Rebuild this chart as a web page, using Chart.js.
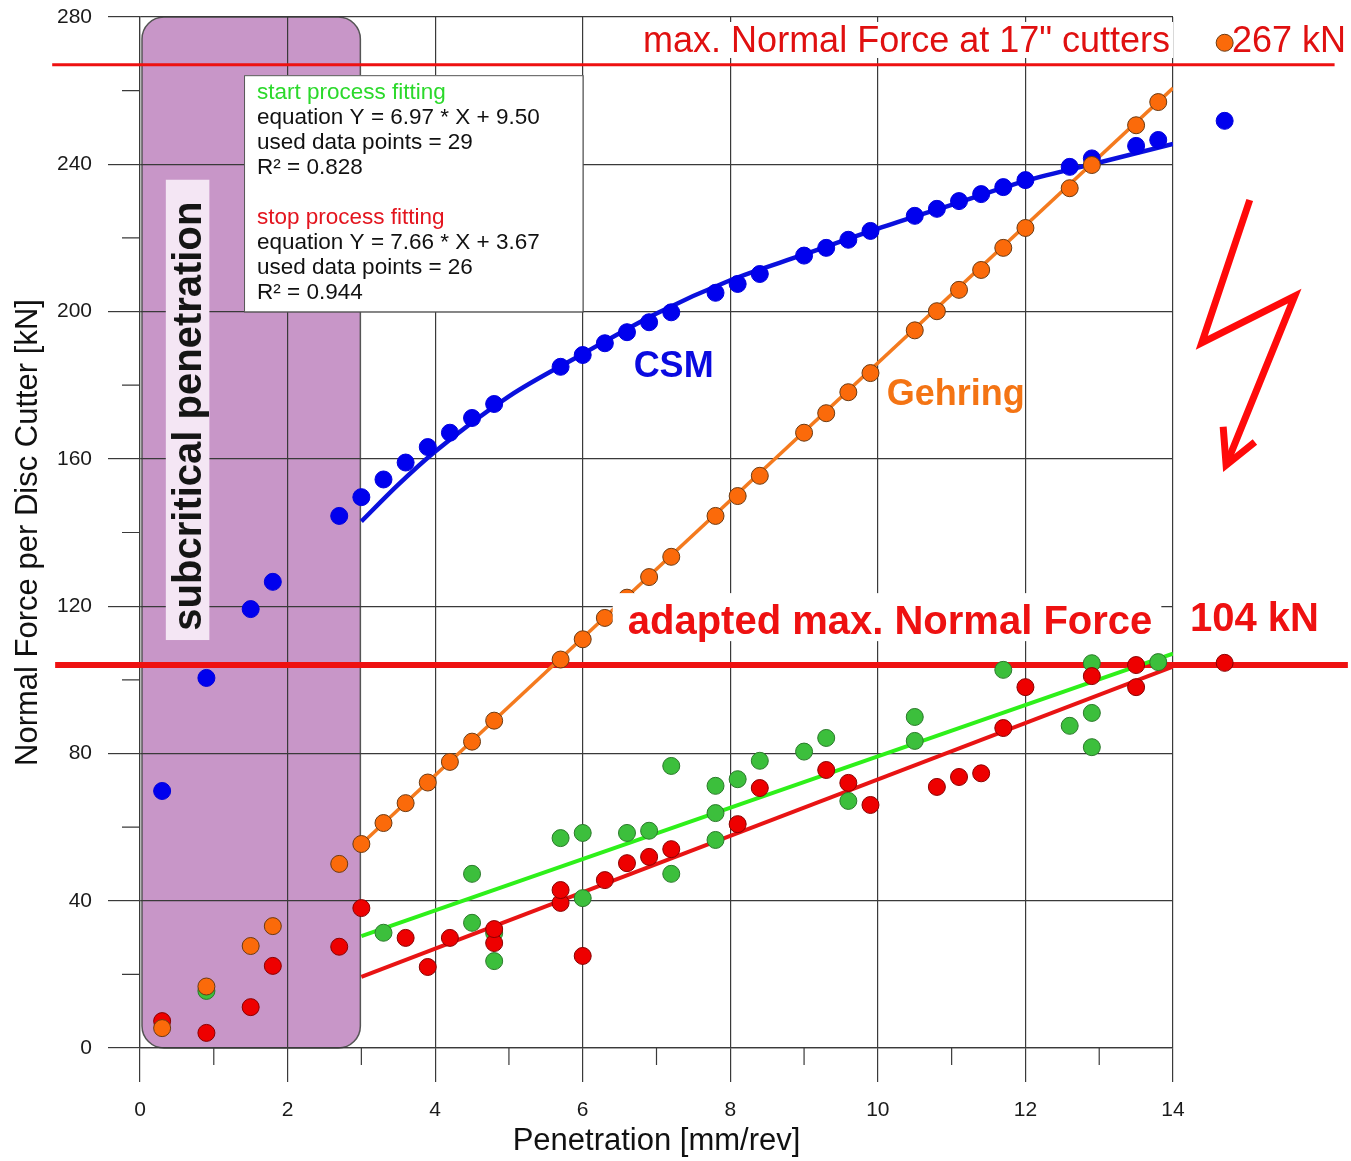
<!DOCTYPE html>
<html lang="en">
<head>
<meta charset="UTF-8" />
<title>Normal Force per Disc Cutter</title>
<script src="https://cdn.jsdelivr.net/npm/chart.js"></script>
<style>
  body { margin: 0; background: #fff; }
  #wrap { width: 1351px; height: 1161px; }
</style>
</head>
<body>
<div id="wrap"><canvas id="grafico"></canvas></div>

<script>
  // penetration steps [mm/rev] shared by the CSM and Gehring predictions
  const penetration = [0.3, 0.9, 1.5, 1.8, 2.7, 3.0, 3.3, 3.6, 3.9, 4.2, 4.5, 4.8, 5.7, 6.0, 6.3, 6.6, 6.9, 7.2,
                       7.8, 8.1, 8.4, 9.0, 9.3, 9.6, 9.9, 10.5, 10.8, 11.1, 11.4, 11.7, 12.0, 12.6, 12.9, 13.5, 13.8, 14.7];
  const csmForce = [69.8, 100.5, 119.2, 126.6, 144.5, 149.6, 154.4, 159.0, 163.2, 167.1, 171.1, 174.9, 185.0, 188.2, 191.4, 194.4, 197.1, 199.8,
                    205.1, 207.5, 210.2, 215.2, 217.3, 219.5, 221.9, 226.0, 227.9, 230.0, 231.9, 233.8, 235.7, 239.3, 241.6, 245.0, 246.6, 251.8];
  const gehringForce = [5.4, 16.7, 27.7, 33.1, 50.0, 55.4, 61.1, 66.5, 72.1, 77.7, 83.2, 88.9, 105.5, 111.0, 116.8, 122.3, 127.9, 133.4,
                        144.5, 149.9, 155.4, 167.1, 172.4, 178.1, 183.3, 194.9, 200.1, 205.9, 211.3, 217.3, 222.7, 233.5, 239.8, 250.6, 256.9, 273.0];

  // measured normal force, start of process
  const startX = [0.9, 3.3, 4.5, 4.5, 4.8, 4.8, 5.7, 6.0, 6.0, 6.6, 6.9, 7.2, 7.2, 7.8, 7.8, 7.8, 8.1, 8.4, 9.0, 9.3, 9.6,
                  10.5, 10.5, 11.7, 12.6, 12.9, 12.9, 12.9, 13.8];
  const startForce = [15.5, 31.3, 47.3, 34.0, 31.2, 23.6, 57.0, 58.4, 40.7, 58.4, 59.0, 76.6, 47.3, 71.2, 63.8, 56.5, 73.0, 78.0, 80.5, 84.2, 67.1,
                      89.9, 83.4, 102.7, 87.5, 91.0, 81.7, 104.5, 104.8];

  // measured normal force, stop of process
  const stopX = [0.3, 0.9, 1.5, 1.8, 2.7, 3.0, 3.6, 3.9, 4.2, 4.8, 4.8, 5.7, 5.7, 6.0, 6.3, 6.6, 6.9, 7.2, 8.1, 8.4,
                 9.3, 9.6, 9.9, 10.8, 11.1, 11.4, 11.7, 12.0, 12.9, 13.5, 13.5, 14.7];
  const stopForce = [7.3, 4.1, 11.1, 22.3, 27.5, 38.0, 29.9, 22.0, 29.9, 32.3, 28.5, 42.9, 39.4, 25.0, 45.6, 50.2, 51.9, 54.0, 60.8, 70.6,
                     75.5, 72.0, 66.0, 70.9, 73.6, 74.6, 86.9, 98.0, 101.0, 104.0, 98.0, 104.6];

  // fitted curves
  const csmFitX = [3, 3.5, 4, 5, 6, 7, 8, 9, 10, 11, 12, 13, 14];
  const csmFitY = [143, 153, 162, 177, 188.5, 199.5, 208.5, 215.5, 222.5, 229, 235.5, 240.5, 245.5];
  const gehringFitX = [3, 14];
  const gehringFitY = [55.4, 260.7];
  const startFitX = [3, 14];
  const startFitY = [30.4, 107.1];
  const stopFitX = [3, 14];
  const stopFitY = [19.3, 103.6];

  // limits [kN]
  const maxForce = 267;
  const adaptedForce = 104;
  const subcritical = [0, 3];

  const xTicks = [0, 2, 4, 6, 8, 10, 12, 14];
  const xMinor = [1, 3, 5, 7, 9, 11, 13];
  const yTicks = [0, 40, 80, 120, 160, 200, 240, 280];
  const yMinor = [20, 60, 100, 140, 180, 220, 260];

  const family = '"Liberation Sans", Arial, Helvetica, sans-serif';
  const gridColor = '#3a3a3a';

  const xy = (xs, ys) => xs.map((x, i) => ({ x: x, y: ys[i] }));

  function puntos(label, xs, ys, fill, edge) {
    // unsorted order so every point gets a position, also those past 14 mm/rev
    return {
      label: label, data: xy(xs, ys).reverse(), showLine: false, clip: false,
      pointRadius: 8.5, pointHoverRadius: 8.5, pointBorderWidth: 1,
      backgroundColor: fill, borderColor: edge,
      pointBackgroundColor: fill, pointBorderColor: edge
    };
  }

  function ajuste(label, xs, ys, color, width, smooth) {
    return {
      label: label, data: xy(xs, ys), showLine: true, pointRadius: 0,
      borderColor: color, borderWidth: width, backgroundColor: color,
      cubicInterpolationMode: smooth ? 'monotone' : 'default', tension: smooth ? 0.4 : 0
    };
  }

  function texto(ctx, s, x, y, font, color, align) {
    ctx.font = font;
    ctx.fillStyle = color;
    ctx.textAlign = align || 'left';
    ctx.textBaseline = 'alphabetic';
    ctx.fillText(s, x, y);
  }

  function roundRect(ctx, x, y, w, h, r) {
    ctx.beginPath();
    ctx.moveTo(x + r, y);
    ctx.lineTo(x + w - r, y);
    ctx.arcTo(x + w, y, x + w, y + r, r);
    ctx.lineTo(x + w, y + h - r);
    ctx.arcTo(x + w, y + h, x + w - r, y + h, r);
    ctx.lineTo(x + r, y + h);
    ctx.arcTo(x, y + h, x, y + h - r, r);
    ctx.lineTo(x, y + r);
    ctx.arcTo(x, y, x + r, y, r);
    ctx.closePath();
  }

  const decor = {
    id: 'decor',
    beforeDraw(chart) {
      // subcritical penetration band, under the grid
      const { ctx, chartArea: a, scales: { x } } = chart;
      const l = x.getPixelForValue(subcritical[0]) + 2;
      const r = x.getPixelForValue(subcritical[1]) - 1;
      ctx.save();
      roundRect(ctx, l, a.top, r - l, a.bottom - a.top, 22);
      ctx.fillStyle = '#c896c8';
      ctx.fill();
      ctx.strokeStyle = '#555';
      ctx.lineWidth = 1.5;
      ctx.stroke();
      ctx.restore();
    },
    beforeDatasetsDraw(chart) {
      const { ctx, chartArea: a, scales: { x, y } } = chart;
      ctx.save();

      // minor ticks
      ctx.strokeStyle = gridColor;
      ctx.lineWidth = 1.2;
      ctx.beginPath();
      xMinor.forEach(v => { const p = x.getPixelForValue(v); ctx.moveTo(p, a.bottom); ctx.lineTo(p, a.bottom + 17); });
      yMinor.forEach(v => { const p = y.getPixelForValue(v); ctx.moveTo(a.left - 18, p); ctx.lineTo(a.left, p); });
      ctx.stroke();

      // label inside the band
      const bx0 = x.getPixelForValue(0.35), bx1 = x.getPixelForValue(0.94);
      const by0 = y.getPixelForValue(235.8), by1 = y.getPixelForValue(110.8);
      ctx.fillStyle = '#f4e6f4';
      ctx.fillRect(bx0, by0, bx1 - bx0, by1 - by0);
      ctx.save();
      ctx.translate(x.getPixelForValue(0.83), y.getPixelForValue(171.6));
      ctx.rotate(-Math.PI / 2);
      texto(ctx, 'subcritical penetration', 0, 0, 'bold 40px ' + family, '#151515', 'center');
      ctx.restore();

      // fitting summary box
      const fx0 = x.getPixelForValue(1.41), fx1 = x.getPixelForValue(6);
      const fy0 = y.getPixelForValue(264.2), fy1 = y.getPixelForValue(200);
      ctx.fillStyle = '#fff';
      ctx.fillRect(fx0, fy0, fx1 - fx0, fy1 - fy0);
      ctx.strokeStyle = '#555';
      ctx.lineWidth = 1;
      ctx.strokeRect(fx0 + 0.5, fy0 + 0.5, fx1 - fx0, fy1 - fy0);
      const lines = [
        ['start process fitting', '#2bd92b'],
        ['equation Y = 6.97 * X + 9.50', '#111'],
        ['used data points = 29', '#111'],
        ['R\u00b2 = 0.828', '#111'],
        null,
        ['stop process fitting', '#e3141e'],
        ['equation Y = 7.66 * X + 3.67', '#111'],
        ['used data points = 26', '#111'],
        ['R\u00b2 = 0.944', '#111']
      ];
      lines.forEach((ln, i) => {
        if (ln) texto(ctx, ln[0], fx0 + 13, fy0 + 24 + i * 25, '22.5px ' + family, ln[1]);
      });

      // force limits
      const limite = (val, from, to, w) => {
        const p = y.getPixelForValue(val);
        ctx.strokeStyle = '#ee1111';
        ctx.lineWidth = w;
        ctx.beginPath();
        ctx.moveTo(x.getPixelForValue(from), p);
        ctx.lineTo(x.getPixelForValue(to), p);
        ctx.stroke();
      };
      limite(maxForce, -1.19, 16.19, 3);
      limite(adaptedForce, -1.15, 16.37, 6);

      ctx.restore();
    },
    afterDatasetsDraw(chart) {
      const { ctx, chartArea: a, scales: { x, y } } = chart;
      ctx.save();

      // points past the axis end are skipped by the library's area check, draw them here
      const lienzo = { left: 0, top: 0, right: chart.width, bottom: chart.height };
      chart.getSortedVisibleDatasetMetas().slice().reverse().forEach(meta => {
        if (meta.controller.getDataset().showLine) return;
        meta.data.forEach(el => {
          if (Number.isFinite(el.x) && el.x > a.right) el.draw(ctx, lienzo);
        });
      });

      // captions on white backing
      const rotulo = (s, vx, vy, font, color, align, pad) => {
        ctx.font = font;
        const w = ctx.measureText(s).width;
        const px = x.getPixelForValue(vx), py = y.getPixelForValue(vy);
        const left = align === 'right' ? px - w : px;
        ctx.fillStyle = '#fff';
        ctx.fillRect(left - pad[0], py - pad[1], w + pad[0] + pad[2], pad[1] + pad[3]);
        texto(ctx, s, px, py, font, color, align);
      };
      rotulo('max. Normal Force at 17" cutters', 13.96, 270.5, '36px ' + family, '#e01010', 'right', [6, 30, 3, 6]);
      rotulo('adapted max. Normal Force', 6.61, 112.4, 'bold 40px ' + family, '#ee1111', 'left', [15, 41, 9, 7]);

      texto(ctx, '267 kN', x.getPixelForValue(14.8), y.getPixelForValue(270.5), '36px ' + family, '#e01010');
      texto(ctx, '104 kN', x.getPixelForValue(14.23), y.getPixelForValue(113.3), 'bold 40px ' + family, '#ee1111');
      texto(ctx, 'CSM', x.getPixelForValue(6.69), y.getPixelForValue(182.2), 'bold 36px ' + family, '#0a0ae0');
      texto(ctx, 'Gehring', x.getPixelForValue(10.12), y.getPixelForValue(174.6), 'bold 36px ' + family, '#f47414');

      // lightning arrow towards the reduced limit
      const rayo = [[15.04, 230.3], [14.39, 191.5], [15.65, 204.2], [14.72, 158.3]];
      ctx.strokeStyle = '#ff0a0a';
      ctx.lineWidth = 7;
      ctx.lineJoin = 'miter';
      ctx.beginPath();
      rayo.forEach((p, i) => {
        const X = x.getPixelForValue(p[0]), Y = y.getPixelForValue(p[1]);
        if (i === 0) ctx.moveTo(X, Y); else ctx.lineTo(X, Y);
      });
      ctx.stroke();
      const punta = [[14.68, 168.7], [14.72, 158.3], [15.11, 164.6]];
      ctx.beginPath();
      punta.forEach((p, i) => {
        const X = x.getPixelForValue(p[0]), Y = y.getPixelForValue(p[1]);
        if (i === 0) ctx.moveTo(X, Y); else ctx.lineTo(X, Y);
      });
      ctx.stroke();

      ctx.restore();
    }
  };

  const ctx = document.getElementById('grafico').getContext('2d');
  const chart = new Chart(ctx, {
    type: 'scatter',
    data: {
      datasets: [
        puntos('Gehring', penetration, gehringForce, '#fb6a0a', '#6b3a12'),
        puntos('CSM', penetration, csmForce, '#0000ee', '#0000dd'),
        puntos('stop process', stopX, stopForce, '#ee0000', '#8a0000'),
        puntos('start process', startX, startForce, '#3cbf3c', '#2a7a2a'),
        ajuste('Gehring fit', gehringFitX, gehringFitY, '#f47a1e', 3.5, false),
        ajuste('CSM fit', csmFitX, csmFitY, '#0a10dd', 4.5, true),
        ajuste('stop fit', stopFitX, stopFitY, '#e81414', 4, false),
        ajuste('start fit', startFitX, startFitY, '#2ef01a', 4, false)
      ]
    },
    options: {
      responsive: true,
      maintainAspectRatio: false,
      animation: false,
      layout: { padding: { top: 17, right: 178, left: 0, bottom: 0 } },
      plugins: { legend: { display: false }, tooltip: { enabled: false } },
      scales: {
        x: {
          type: 'linear', min: 0, max: 14,
          afterBuildTicks: s => { s.ticks = xTicks.map(v => ({ value: v })); },
          afterFit: s => { s.height = 113; s.paddingLeft = 0; s.paddingRight = 0; },
          grid: { color: gridColor, lineWidth: 1.2, tickLength: 34 },
          border: { color: gridColor, width: 1.2 },
          ticks: { color: '#1a1a1a', font: { family: family, size: 21 }, padding: 16,
                   autoSkip: false, maxRotation: 0, callback: v => String(v) },
          title: { display: true, text: 'Penetration [mm/rev]', color: '#111',
                   font: { family: family, size: 31 }, padding: { top: 0, bottom: 1 } }
        },
        y: {
          type: 'linear', min: 0, max: 280,
          afterBuildTicks: s => { s.ticks = yTicks.map(v => ({ value: v })); },
          afterFit: s => { s.width = 140; s.paddingTop = 0; s.paddingBottom = 0; },
          grid: { color: gridColor, lineWidth: 1.2, tickLength: 32 },
          border: { color: gridColor, width: 1.2 },
          ticks: { color: '#1a1a1a', font: { family: family, size: 21 }, padding: 16,
                   autoSkip: false, callback: v => String(v) },
          title: { display: true, text: 'Normal Force per Disc Cutter [kN]', color: '#111',
                   font: { family: family, size: 31 }, padding: { top: 10, bottom: 0 } }
        }
      }
    },
    plugins: [decor]
  });
</script>
</body>
</html>
